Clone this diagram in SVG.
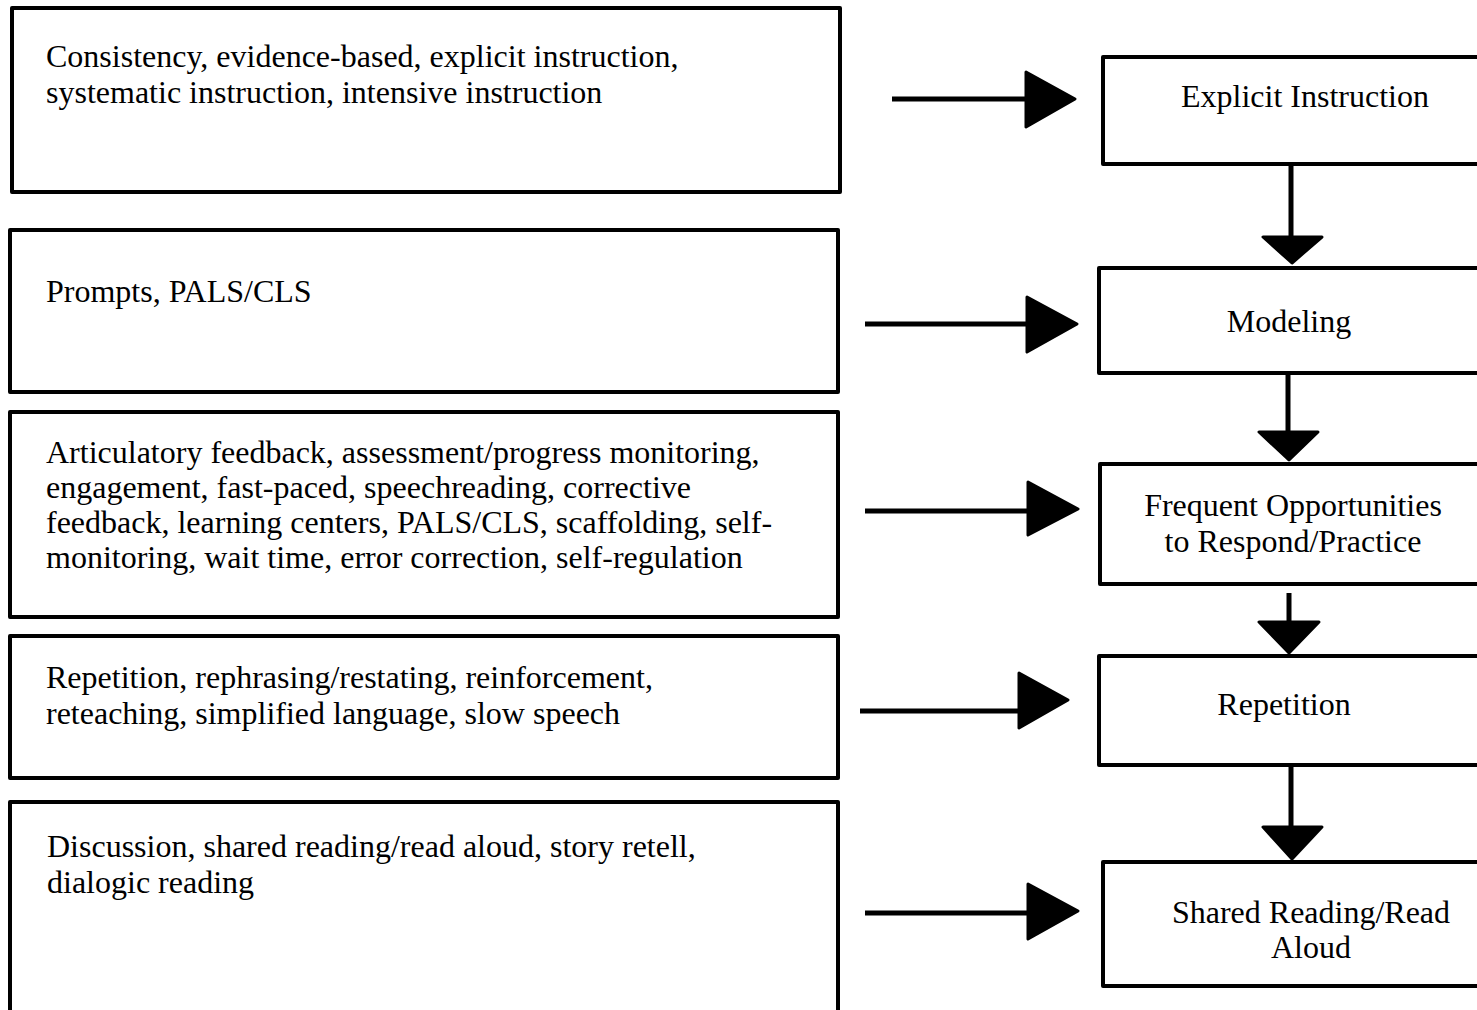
<svg xmlns="http://www.w3.org/2000/svg" width="1477" height="1010" viewBox="0 0 1477 1010">
<style>
.box{fill:#fff;stroke:#000;stroke-width:4;stroke-linejoin:round}
.t{font-family:"Liberation Serif","Times New Roman",serif;font-size:32px;fill:#000}
.c{text-anchor:middle}
.ln{stroke:#000;stroke-width:5;fill:none}
.hd{fill:#000;stroke:#000;stroke-width:3;stroke-linejoin:round}
</style>
<rect width="1477" height="1010" fill="#fff"/>
<g id="left1"><rect class="box" x="12" y="8" width="828" height="184"/>
<text class="t" x="46" y="67">Consistency, evidence-based, explicit instruction,</text>
<text class="t" x="46" y="103">systematic instruction, intensive instruction</text></g>
<g id="left2"><rect class="box" x="10" y="230" width="828" height="162"/>
<text class="t" x="46" y="302">Prompts, PALS/CLS</text></g>
<g id="left3"><rect class="box" x="10" y="412" width="828" height="205"/>
<text class="t" x="46" y="463">Articulatory feedback, assessment/progress monitoring,</text>
<text class="t" x="46" y="498">engagement, fast-paced, speechreading, corrective</text>
<text class="t" x="46" y="533">feedback, learning centers, PALS/CLS, scaffolding, self-</text>
<text class="t" x="46" y="568">monitoring, wait time, error correction, self-regulation</text></g>
<g id="left4"><rect class="box" x="10" y="636" width="828" height="142"/>
<text class="t" x="46" y="688">Repetition, rephrasing/restating, reinforcement,</text>
<text class="t" x="46" y="724">reteaching, simplified language, slow speech</text></g>
<g id="left5"><rect class="box" x="10" y="802" width="828" height="220"/>
<text class="t" x="47" y="857">Discussion, shared reading/read aloud, story retell,</text>
<text class="t" x="47" y="893">dialogic reading</text></g>
<g id="right1"><rect class="box" x="1103" y="57" width="390" height="107"/>
<text class="t c" x="1305" y="107">Explicit Instruction</text></g>
<g id="right2"><rect class="box" x="1099" y="268" width="390" height="105"/>
<text class="t c" x="1289" y="332">Modeling</text></g>
<g id="right3"><rect class="box" x="1100" y="464" width="390" height="120"/>
<text class="t c" x="1293" y="516">Frequent Opportunities</text>
<text class="t c" x="1293" y="552">to Respond/Practice</text></g>
<g id="right4"><rect class="box" x="1099" y="656" width="390" height="109"/>
<text class="t c" x="1284" y="715">Repetition</text></g>
<g id="right5"><rect class="box" x="1103" y="862" width="390" height="124"/>
<text class="t c" x="1311" y="923">Shared Reading/Read</text>
<text class="t c" x="1311" y="958">Aloud</text></g>
<g id="connectors">
<line class="ln" x1="892" y1="99" x2="1030" y2="99"/><polygon class="hd" points="1026,72 1075,99 1026,127"/>
<line class="ln" x1="865" y1="324" x2="1030" y2="324"/><polygon class="hd" points="1027,297 1077,324 1027,352"/>
<line class="ln" x1="865" y1="511" x2="1030" y2="511"/><polygon class="hd" points="1028,482 1078,509 1028,535"/>
<line class="ln" x1="860" y1="711" x2="1022" y2="711"/><polygon class="hd" points="1019,673 1068,700 1019,728"/>
<line class="ln" x1="865" y1="913" x2="1030" y2="913"/><polygon class="hd" points="1028,884 1078,911 1028,939"/>
<line class="ln" x1="1291" y1="164" x2="1291" y2="240"/><polygon class="hd" points="1263,237 1322,237 1292,263"/>
<line class="ln" x1="1288" y1="373" x2="1288" y2="435"/><polygon class="hd" points="1259,432 1318,432 1289,460"/>
<line class="ln" x1="1289" y1="593" x2="1289" y2="625"/><polygon class="hd" points="1259,622 1319,622 1289,653"/>
<line class="ln" x1="1291" y1="765" x2="1291" y2="830"/><polygon class="hd" points="1263,827 1322,827 1292,859"/>
</g>
</svg>
